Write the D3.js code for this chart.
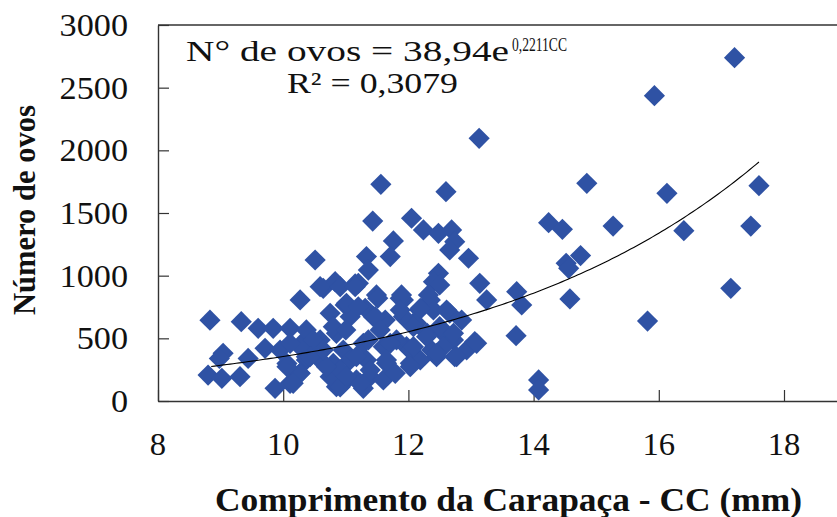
<!DOCTYPE html>
<html>
<head>
<meta charset="utf-8">
<script src="https://cdn.jsdelivr.net/npm/d3@7"></script>
<style>
  html, body { margin: 0; padding: 0; background: #fff; }
  svg { display: block; }
</style>
</head>
<body>
<svg id="chart" width="837" height="517"></svg>
<script>
// ---- data ----
const ccValues = [
  8.83, 8.80, 9.04, 8.98, 9.02, 9.31, 9.33, 9.60, 9.84, 10.11, 9.44, 9.71, 9.95, 10.06, 9.87, 10.11,
  10.27, 10.51, 10.64, 10.83, 10.35, 10.27, 10.37, 10.85, 10.75,
  11.56, 11.43, 12.05, 11.76, 11.71, 11.33, 11.36, 11.15,
  12.60, 12.24, 12.48, 12.69, 12.74, 12.66, 12.96, 12.48, 12.40, 12.50, 13.14, 13.25, 11.92, 12.35,
  12.18, 12.40, 12.66, 12.85, 12.08, 12.30, 12.56, 12.72, 13.06, 12.93, 12.74, 11.97, 12.03, 12.37,
  12.56, 12.45, 12.19, 13.13,
  13.73, 13.81, 13.72, 14.08, 14.08, 14.24, 14.46, 14.75, 14.52, 14.56, 14.58, 14.85, 15.27, 15.82,
  15.93, 16.13, 16.40, 17.15, 17.21, 17.47, 17.60,
  10.59, 10.91, 11.20, 11.49, 11.31, 11.87, 10.99, 10.75, 11.07, 11.44, 11.63, 11.92, 12.13, 10.37,
  10.59, 10.85, 10.96, 11.28, 11.60, 11.81, 12.03, 10.37, 10.59, 10.80, 11.07, 11.33, 11.65, 12.03,
  10.75, 10.96, 10.91, 11.17, 11.39, 11.60, 11.79, 11.28, 10.27, 10.27, 11.51,
  11.15, 11.89, 12.32, 11.01, 11.20, 11.47, 11.87, 12.19, 12.61, 10.48, 10.80, 11.00, 11.55, 12.08,
  12.50, 12.72, 13.09, 12.77, 12.45, 12.08, 11.71, 11.65, 11.39, 11.17, 10.91, 10.69, 10.43, 10.11,
  10.06, 10.16, 11.23, 11.01, 10.64, 11.36, 12.29
];
const ovosValues = [
  645, 207, 380, 340, 181, 194, 633, 580, 580, 580, 340, 420, 407, 300, 101, 141,
  806, 1125, 899, 952, 487, 221, 327, 114, 247,
  1729, 1436, 1458, 1277, 1152, 1152, 1045, 934,
  1670, 1365, 1338, 1365, 1271, 1205, 1139, 1019, 952, 926, 939, 806, 806, 806,
  726, 726, 700, 646, 622, 540, 540, 487, 473, 407, 354, 433, 301, 407,
  433, 354, 327, 2096,
  872, 766, 521, 168, 88, 1423, 1370, 1160, 1099, 1059, 814, 1737, 1396, 638,
  2436, 1657, 1359, 899, 2739, 1396, 1718,
  912, 912, 939, 846, 740, 819, 766, 700, 673, 673, 646, 673, 620, 567,
  487, 540, 407, 460, 433, 487, 407, 354, 327, 301, 327, 327, 301, 274,
  194, 141, 112, 168, 194, 168, 221, 101, 433, 221, 820,
  912, 846, 846, 780, 752, 673, 726, 740, 726, 487, 593, 567, 567, 593,
  593, 540, 460, 354, 380, 433, 460, 327, 247, 354, 247, 274, 354, 460,
  274, 141, 141, 194, 407, 487, 513
];
const xTicks = [8, 10, 12, 14, 16, 18];
const yTicks = [0, 500, 1000, 1500, 2000, 2500, 3000];
const fitA = 38.94, fitB = 0.2211;      // N = a * e^(b*CC)
const fitRange = [8.85, 17.62];
const equationMain = "N\u00B0 de ovos = 38,94e";
const equationSup = "0,2211CC";
const r2Label = "R\u00B2 = 0,3079";
const xTitle = "Comprimento da Carapa\u00E7a - CC (mm)";
const yTitle = "N\u00FAmero de ovos";

// ---- layout ----
const svg = d3.select("#chart");
const mLeft = 158, mTop = 25, mBottom = 401;
const x = d3.scaleLinear().domain([8, 20]).range([mLeft, mLeft + 12 * 62.6]);
const y = d3.scaleLinear().domain([0, 3000]).range([mBottom, mTop]);
const serif = "'Liberation Serif', 'Times New Roman', serif";
const axisColor = "#333";
const textColor = "#111";
const sx = 1.07; // horizontal stretch of the reference's lettering

// helper: stretch a text horizontally to a target width (keeps glyph height)
function fitWidth(sel, target) {
  sel.attr("textLength", target).attr("lengthAdjust", "spacingAndGlyphs");
}

// top frame line
svg.append("line").attr("x1", mLeft).attr("x2", 837).attr("y1", mTop).attr("y2", mTop)
  .attr("stroke", axisColor).attr("stroke-width", 1.4);

// y axis (ticks inside)
const yAxis = svg.append("g").attr("transform", `translate(${mLeft},0)`)
  .call(d3.axisRight(y).tickValues(yTicks).tickSize(11).tickSizeOuter(0).tickFormat(""));
yAxis.select(".domain").attr("stroke", axisColor).attr("stroke-width", 1.4);
yAxis.selectAll(".tick line").attr("stroke", axisColor).attr("stroke-width", 1.2);
svg.append("g").selectAll("text").data(yTicks).join("text")
  .attr("transform", d => `translate(128,${y(d)}) scale(${sx},1)`)
  .attr("dy", "0.34em")
  .attr("text-anchor", "end").attr("font-family", serif).attr("font-size", 32).attr("fill", textColor)
  .text(d => d);

// x axis (ticks inside)
const xAxis = svg.append("g").attr("transform", `translate(0,${mBottom})`)
  .call(d3.axisTop(x).tickValues(xTicks).tickSize(11).tickSizeOuter(0).tickFormat(""));
xAxis.select(".domain").attr("stroke", axisColor).attr("stroke-width", 1.4);
xAxis.selectAll(".tick line").attr("stroke", axisColor).attr("stroke-width", 1.2);
svg.append("g").selectAll("text").data(xTicks).join("text")
  .attr("transform", d => `translate(${x(d)},455) scale(1.02,1)`)
  .attr("text-anchor", "middle").attr("font-family", serif).attr("font-size", 32).attr("fill", textColor)
  .text(d => d);

// points
const pts = ccValues.map((c, i) => ({ cc: c, n: ovosValues[i] }));
const diamond = d3.symbol().type(d3.symbolSquare).size(225);
svg.append("g").selectAll("path").data(pts).join("path")
  .attr("d", diamond)
  .attr("transform", d => `translate(${x(d.cc)},${y(d.n)}) rotate(45)`)
  .attr("fill", "#2F52A4");

// trend line
const fitX = d3.range(fitRange[0], fitRange[1] + 0.001, 0.05);
svg.append("path")
  .datum(fitX)
  .attr("d", d3.line().x(d => x(d)).y(d => y(fitA * Math.exp(fitB * d))))
  .attr("fill", "none").attr("stroke", "#000").attr("stroke-width", 1.1);

// equation
const eqMain = svg.append("text").attr("x", 186).attr("y", 61)
  .attr("font-family", serif).attr("font-size", 30).attr("fill", textColor)
  .text(equationMain);
fitWidth(eqMain, 323);
const eqSup = svg.append("text").attr("x", 512).attr("y", 51)
  .attr("font-family", serif).attr("font-size", 18).attr("fill", textColor)
  .text(equationSup);
fitWidth(eqSup, 55);
const r2 = svg.append("text").attr("x", 287).attr("y", 93)
  .attr("font-family", serif).attr("font-size", 30).attr("fill", textColor)
  .text(r2Label);
fitWidth(r2, 171);

// axis titles
const xt = svg.append("text").attr("x", 215).attr("y", 511)
  .attr("font-family", serif).attr("font-weight", "bold")
  .attr("font-size", 33).attr("fill", textColor).text(xTitle);
fitWidth(xt, 587);
const yt = svg.append("text").attr("transform", "translate(35,315) rotate(-90)")
  .attr("font-family", serif).attr("font-weight", "bold")
  .attr("font-size", 31).attr("fill", textColor).text(yTitle);
fitWidth(yt, 210);
</script>
</body>
</html>
